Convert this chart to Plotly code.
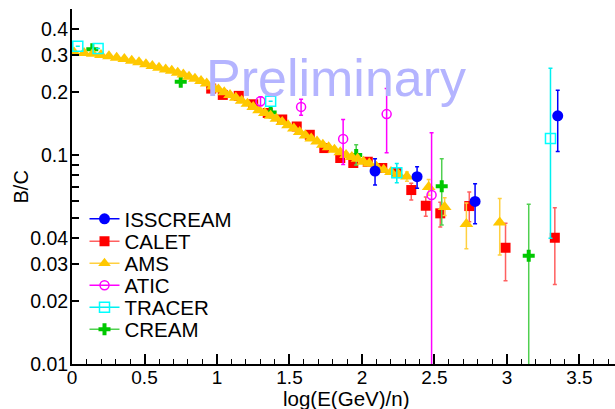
import plotly.graph_objects as go

FONT = "Liberation Sans, Arial, sans-serif"

# ---------------- data ----------------
iss_x = [2.09, 2.38, 2.78, 3.35]
iss_y = [0.0838, 0.0788, 0.060, 0.154]
iss_ep = [0.0122, 0.0092, 0.0129, 0.050]
iss_em = [0.0119, 0.0094, 0.0131, 0.050]

calet_x = [0.96, 1.04, 1.15, 1.25, 1.35, 1.45, 1.55, 1.64, 1.74, 1.85,
           1.94, 2.04, 2.14, 2.24, 2.34, 2.44, 2.54, 2.74, 2.99, 3.33]
calet_y = [0.208, 0.194, 0.192, 0.175, 0.159, 0.148, 0.137, 0.125, 0.108, 0.0968,
           0.0916, 0.0929, 0.0867, 0.082, 0.068, 0.0572, 0.0526, 0.057, 0.036, 0.0402]
calet_ep = [0.004, 0.004, 0.004, 0.004, 0.004, 0.004, 0.004, 0.004, 0.003, 0.003,
            0.003, 0.003, 0.003, 0.003, 0.0052, 0.0058, 0.0069, 0.0095, 0.0112, 0.0158]
calet_em = [0.004, 0.004, 0.004, 0.004, 0.004, 0.004, 0.004, 0.004, 0.003, 0.003,
            0.003, 0.003, 0.003, 0.003, 0.0071, 0.0062, 0.0074, 0.0090, 0.0110, 0.0162]

ams_x = [0.014, 0.083, 0.143, 0.200, 0.255, 0.308, 0.361, 0.412, 0.462, 0.510,
         0.554, 0.600, 0.646, 0.688, 0.729, 0.768, 0.807, 0.848, 0.890, 0.929,
         0.970, 1.01, 1.05, 1.09, 1.13, 1.17, 1.21, 1.25, 1.29, 1.33,
         1.37, 1.41, 1.45, 1.49, 1.53, 1.57, 1.61, 1.65, 1.69, 1.73,
         1.77, 1.81, 1.85, 1.89, 1.93, 1.97, 2.01, 2.05, 2.10, 2.15,
         2.20, 2.25, 2.31, 2.46, 2.57, 2.72, 2.95]
ams_y = [0.310, 0.308, 0.305, 0.301, 0.297, 0.292, 0.288, 0.283, 0.278, 0.272,
         0.267, 0.262, 0.257, 0.253, 0.248, 0.243, 0.237, 0.232, 0.226, 0.220,
         0.213, 0.206, 0.200, 0.194, 0.188, 0.182, 0.176, 0.170, 0.164, 0.159,
         0.154, 0.149, 0.144, 0.139, 0.134, 0.129, 0.124, 0.120, 0.116, 0.112,
         0.109, 0.106, 0.103, 0.100, 0.098, 0.096, 0.093, 0.091, 0.088, 0.085,
         0.083, 0.081, 0.079, 0.0703, 0.0564, 0.0468, 0.0475]
ams_ep = [0.002, 0.002, 0.002, 0.002, 0.002, 0.002, 0.002, 0.002, 0.002, 0.002,
          0.002, 0.002, 0.002, 0.002, 0.002, 0.002, 0.002, 0.002, 0.002, 0.002,
          0.002, 0.002, 0.002, 0.002, 0.002, 0.002, 0.002, 0.002, 0.002, 0.002,
          0.002, 0.002, 0.002, 0.002, 0.002, 0.002, 0.002, 0.002, 0.002, 0.002,
          0.002, 0.002, 0.002, 0.002, 0.002, 0.002, 0.002, 0.002, 0.002, 0.002,
          0.002, 0.003, 0.004, 0.006, 0.006, 0.0122, 0.0145]
ams_em = [0.002, 0.002, 0.002, 0.002, 0.002, 0.002, 0.002, 0.002, 0.002, 0.002,
          0.002, 0.002, 0.002, 0.002, 0.002, 0.002, 0.002, 0.002, 0.002, 0.002,
          0.002, 0.002, 0.002, 0.002, 0.002, 0.002, 0.002, 0.002, 0.002, 0.002,
          0.002, 0.002, 0.002, 0.002, 0.002, 0.002, 0.002, 0.002, 0.002, 0.002,
          0.002, 0.002, 0.002, 0.002, 0.002, 0.002, 0.002, 0.002, 0.002, 0.002,
          0.002, 0.003, 0.004, 0.006, 0.005, 0.0112, 0.0143]

atic_x = [1.30, 1.58, 1.87, 2.17, 2.48]
atic_y = [0.181, 0.170, 0.1195, 0.157, 0.0644]
atic_ep = [0.009, 0.015, 0.0285, 0.051, 0.0636]
atic_em = [0.009, 0.015, 0.0293, 0.0545, 0.0600]

tracer_x = [0.04, 0.18, 1.37, 2.24, 3.30]
tracer_y = [0.332, 0.324, 0.181, 0.0823, 0.120]
tracer_ep = [0.0, 0.0, 0.0, 0.0087, 0.140]
tracer_em = [0.0, 0.0, 0.0, 0.0086, 0.080]

cream_x = [0.14, 0.75, 1.37, 1.96, 2.55, 3.15]
cream_y = [0.321, 0.224, 0.160, 0.100, 0.071, 0.033]
cream_ep = [0.0, 0.0, 0.0, 0.012, 0.025, 0.0251]
cream_em = [0.0, 0.0, 0.0, 0.0104, 0.0247, 0.0245]

y_tickvals = [0.01, 0.02, 0.03, 0.04, 0.05, 0.06, 0.07, 0.08, 0.09, 0.1, 0.2, 0.3, 0.4]
y_ticktext = ["0.01", "0.02", "0.03", "0.04", "", "", "", "", "", "0.1", "0.2", "0.3", "0.4"]

series = [
    # name, x, y, err+, err-, symbol, size, colour, error colour
    ("CALET", calet_x, calet_y, calet_ep, calet_em, "square", 10, "#ff0000", "#ff6060"),
    ("CREAM", cream_x, cream_y, cream_ep, cream_em, "cross", 10, "#00c800", "#50d050"),
    ("AMS", ams_x, ams_y, ams_ep, ams_em, "triangle-up", 12, "#ffc800", "#ffd040"),
    ("ATIC", atic_x, atic_y, atic_ep, atic_em, "circle-open", 9, "#ff00ff", "#ff00ff"),
    ("TRACER", tracer_x, tracer_y, tracer_ep, tracer_em, "square-open", 10, "#00ffff", "#00f0f0"),
    ("ISSCREAM", iss_x, iss_y, iss_ep, iss_em, "circle", 11, "#0000ff", "#0000ff"),
]
legend_order = ["ISSCREAM", "CALET", "AMS", "ATIC", "TRACER", "CREAM"]

fig = go.Figure()
for name, x, y, ep, em, sym, size, col, ecol in series:
    fig.add_trace(go.Scatter(
        x=x, y=y, mode="markers", name=name, showlegend=False,
        marker=dict(symbol=sym, size=size, color=col,
                    line=dict(color=col, width=1.5 if "open" in sym else 0)),
        error_y=dict(type="data", symmetric=False, array=ep, arrayminus=em,
                     color=ecol, thickness=1.5, width=2),
        cliponaxis=True,
    ))

# plot area geometry (px) used to place the legends / titles
L, T, B, W, H = 72, 9, 45, 543, 355
def py(pix):
    return (T + H - pix) / H

lookup = {s[0]: s for s in series}
legend_rows = [219, 241.5, 263.5, 285.5, 307.5, 329.5]
layout_legends = {}
for i, name in enumerate(legend_order):
    _, x, y, ep, em, sym, size, col, ecol = lookup[name]
    key = "legend" if i == 0 else f"legend{i+1}"
    fig.add_trace(go.Scatter(
        x=[None], y=[None], mode="lines+markers", name=name, legend=key,
        marker=dict(symbol=sym, size=min(size, 11), color=col,
                    line=dict(color=col, width=1.5 if "open" in sym else 0)),
        line=dict(color=ecol, width=1.5),
    ))
    layout_legends[key] = dict(x=(84.5 - L) / W, y=py(legend_rows[i]),
                               xanchor="left", yanchor="middle",
                               bgcolor="rgba(0,0,0,0)",
                               font=dict(size=20.5, family=FONT, color="black"),
                               itemwidth=30)

fig.update_layout(
    width=615, height=409,
    margin=dict(l=L, r=0, t=T, b=B),
    paper_bgcolor="white", plot_bgcolor="white",
    font=dict(family=FONT, size=19, color="black"),
    showlegend=True,
    xaxis=dict(range=[0, 3.745], showgrid=False, zeroline=False,
               showline=True, linecolor="black", linewidth=2,
               ticks="inside", ticklen=10, tickwidth=1.5, tickcolor="black",
               tickmode="linear", tick0=0, dtick=0.5,
               minor=dict(dtick=0.1, tick0=0, ticklen=5, tickwidth=1, tickcolor="black",
                          ticks="inside", showgrid=False),
               tickfont=dict(size=19, family=FONT), ticklabelstandoff=-5),
    yaxis=dict(type="log", range=[-2, -0.301], showgrid=False, zeroline=False,
               showline=True, linecolor="black", linewidth=2,
               ticks="inside", ticklen=7, tickwidth=1.5, tickcolor="black",
               tickmode="array", tickvals=y_tickvals, ticktext=y_ticktext,
               tickfont=dict(size=19.5, family=FONT), ticklabelstandoff=-2),
    yaxis2=dict(type="log", range=[-2, -0.301], overlaying="y", anchor="x",
                side="left", showgrid=False, zeroline=False, showline=False,
                ticks="inside", ticklen=15, tickwidth=1.5, tickcolor="black",
                tickmode="array", tickvals=[0.01, 0.1], showticklabels=False),
    **layout_legends,
)

# watermark
fig.add_annotation(text="Preliminary", xref="paper", yref="paper",
                   x=(336 - L) / W, y=py(78), xanchor="center", yanchor="middle",
                   showarrow=False, font=dict(size=52, family=FONT, color="#b4b4ff"))
# axis titles
fig.add_annotation(text="B/C", xref="paper", yref="paper",
                   x=(20.5 - L) / W, y=py(187), xanchor="center", yanchor="middle",
                   textangle=-90, showarrow=False, font=dict(size=20, family=FONT))
fig.add_annotation(text="log(E(GeV)/n)", xref="paper", yref="paper",
                   x=(346 - L) / W, y=py(398), xanchor="center", yanchor="middle",
                   showarrow=False, font=dict(size=20.5, family=FONT))

fig.write_html("out.html")
